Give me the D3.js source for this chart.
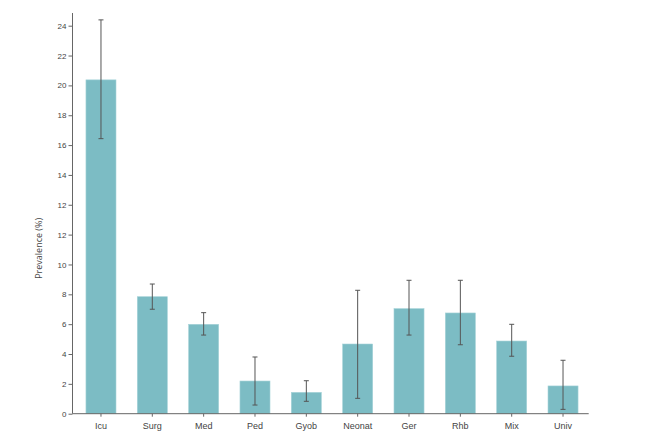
<!DOCTYPE html>
<html>
<head>
<meta charset="utf-8">
<script src="https://cdn.jsdelivr.net/npm/d3@7"></script>
<style>
    body { margin: 0; background: #fff; }
    svg { display: block; font-family: "Open Sans", "Noto Sans", sans-serif; }
</style>
</head>
<body>
<div id="chart"></div>
<script>
// Categories and values (in axis position units, one tick = 2 units)
const wards = ['Icu', 'Surg', 'Med', 'Ped', 'Gyob', 'Neonat', 'Ger', 'Rhb', 'Mix', 'Univ'];
const prevalence = [22.37, 7.84, 5.99, 2.19, 1.43, 4.67, 7.04, 6.75, 4.87, 1.86];
const ciLow = [18.43, 7.0, 5.27, 0.58, 0.83, 1.03, 5.27, 4.62, 3.85, 0.29];
const ciHigh = [26.39, 8.69, 6.77, 3.8, 2.21, 8.27, 8.94, 8.94, 5.99, 3.58];
// tick labels as printed on the original axis
const yTickValues = [0, 2, 4, 6, 8, 10, 12, 14, 16, 18, 20, 22, 24, 26];
const yTickLabels = ['0', '2', '4', '6', '8', '10', '12', '12', '14', '16', '18', '20', '22', '24'];

const width = 653;
const height = 434;
const axisX = 72.5;
const axisY = 413.7;

const svg = d3.select('#chart')
    .append('svg')
    .attr('width', width)
    .attr('height', height);

const data = wards.map((w, i) => ({
    ward: w,
    value: prevalence[i],
    low: ciLow[i],
    high: ciHigh[i]
}));

// Scales
const xScale = d3.scaleBand()
    .domain(wards)
    .range([75.3, 588.7])
    .paddingInner(0.415)
    .paddingOuter(0.2075);

const yScale = d3.scaleLinear()
    .domain([0, 26])
    .range([axisY, 25.7]);

// Bars
svg.selectAll('.bar')
    .data(data)
    .enter()
    .append('rect')
    .attr('class', 'bar')
    .attr('x', d => xScale(d.ward))
    .attr('y', d => yScale(d.value))
    .attr('width', xScale.bandwidth())
    .attr('height', d => axisY - yScale(d.value))
    .attr('fill', '#7cbcc4')
    .attr('stroke', '#a6d3d8')
    .attr('stroke-width', 0.6);

// Error bars
const cx = d => xScale(d.ward) + xScale.bandwidth() / 2;
const err = svg.append('g')
    .attr('stroke', '#555')
    .attr('stroke-width', 1);

err.selectAll('.err-line')
    .data(data)
    .enter()
    .append('line')
    .attr('x1', cx)
    .attr('x2', cx)
    .attr('y1', d => yScale(d.low))
    .attr('y2', d => yScale(d.high));

['low', 'high'].forEach(k => {
    err.selectAll('.cap-' + k)
        .data(data)
        .enter()
        .append('line')
        .attr('x1', d => cx(d) - 2.5)
        .attr('x2', d => cx(d) + 2.5)
        .attr('y1', d => yScale(d[k]))
        .attr('y2', d => yScale(d[k]));
});

// Y axis
const yAxis = d3.axisLeft(yScale)
    .tickValues(yTickValues)
    .tickFormat((d, i) => yTickLabels[i])
    .tickSize(4)
    .tickPadding(2);

const gy = svg.append('g')
    .attr('transform', `translate(${axisX},0)`)
    .call(yAxis);
gy.select('.domain').remove();
gy.append('line')
    .attr('y1', 13)
    .attr('y2', axisY)
    .attr('stroke', '#666');
gy.selectAll('text')
    .style('fill', '#444')
    .style('font-size', '8px');

// X axis
const xAxis = d3.axisBottom(xScale)
    .tickSize(3)
    .tickPadding(6);

const gx = svg.append('g')
    .attr('transform', `translate(0,${axisY})`)
    .call(xAxis);
gx.select('.domain').remove();
gx.append('line')
    .attr('x1', axisX)
    .attr('x2', 588.7)
    .attr('stroke', '#666');
gx.selectAll('text')
    .style('fill', '#444')
    .style('font-size', '9px');

svg.selectAll('.tick line').style('stroke', '#666');

// Y label
svg.append('text')
    .attr('transform', `translate(42,${(axisY + 13) / 2 + 35}) rotate(-90)`)
    .style('text-anchor', 'middle')
    .style('fill', '#444')
    .style('font-size', '9px')
    .text('Prevalence (%)');
</script>
</body>
</html>
